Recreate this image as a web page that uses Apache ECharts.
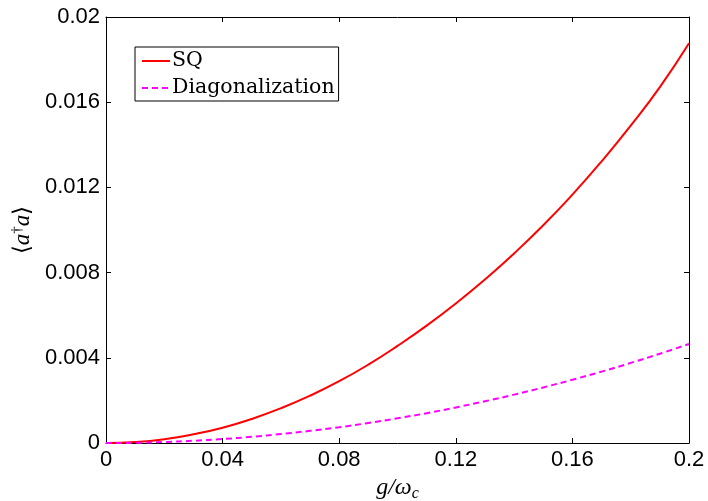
<!DOCTYPE html>
<html>
<head>
<meta charset="utf-8">
<script src="https://cdn.jsdelivr.net/npm/echarts@6/dist/echarts.min.js"></script>
<style>html,body{margin:0;padding:0;background:#fff}#c{width:708px;height:501px}</style>
</head>
<body>
<div id="c"></div>
<script>
const gValues = [0,0.01,0.02,0.03,0.04,0.05,0.06,0.07,0.08,0.09,0.10,0.11,0.12,0.13,0.14,0.15,0.16,0.17,0.18,0.19,0.20];
const sqValues = [0,0.000045,0.00018,0.00041,0.00072,0.00113,0.00163,0.00222,0.00290,0.00368,0.00456,0.00551,0.00655,0.00768,0.00890,0.01022,0.01166,0.01322,0.01490,0.01671,0.01877];
const diagValues = [0,0.0000116,0.000046,0.000104,0.000186,0.00029,0.00042,0.00057,0.00074,0.00094,0.00116,0.0014,0.00167,0.00196,0.00227,0.00261,0.00297,0.00335,0.00376,0.00419,0.00465];
const seriesNames = ['SQ','Diagonalization'];
const xTicks = [0,0.04,0.08,0.12,0.16,0.2];
const yTicks = [0,0.004,0.008,0.012,0.016,0.02];

const chart = echarts.init(document.getElementById('c'), null, {renderer:'canvas'});
const fmt = v => String(parseFloat(v.toFixed(4)));
const sans = 'Liberation Sans, Arial, sans-serif';
const serif = 'Liberation Serif, Times New Roman, serif';
const frameAxis = {
  axisLine:{show:true,onZero:false,lineStyle:{color:'#000',width:1}},
  axisTick:{inside:true,length:5,lineStyle:{color:'#000'}},
  splitLine:{show:false}
};
chart.setOption({
  animation:false,
  backgroundColor:'#fff',
  grid:{left:106,right:19,top:17,bottom:58,containLabel:false,outerBoundsMode:'none'},
  legend:{
    orient:'vertical', left:135, top:47,
    backgroundColor:'#fff', borderColor:'#000', borderWidth:1,
    padding:[2,4,1,6], itemGap:3, itemWidth:28, itemHeight:14,
    itemStyle:{opacity:0},
    textStyle:{fontFamily:'DejaVu Serif, serif', fontSize:20.5, lineHeight:24, color:'#000', padding:[0,0,0,-3]},
    data:seriesNames
  },
  xAxis:[Object.assign({
    type:'value', min:xTicks[0], max:xTicks[xTicks.length-1], interval:0.04,
    axisLabel:{margin:6,formatter:fmt,fontFamily:sans,fontSize:22,color:'#000'},
    name:'{i|g}{n|/ω}{s|c}', nameLocation:'middle', nameGap:29,
    nameTextStyle:{rich:{
      i:{fontFamily:serif,fontStyle:'italic',fontSize:24,color:'#000'},
      n:{fontFamily:serif,fontStyle:'italic',fontSize:24,color:'#000'},
      s:{fontFamily:serif,fontStyle:'italic',fontSize:16,color:'#000',padding:[12,0,0,0]}
    }}
  },frameAxis),Object.assign({
    type:'value', position:'top', min:xTicks[0], max:xTicks[xTicks.length-1], interval:0.04,
    axisLabel:{show:false}
  },frameAxis)],
  yAxis:[Object.assign({
    type:'value', min:yTicks[0], max:yTicks[yTicks.length-1], interval:0.004,
    axisLabel:{margin:6,formatter:fmt,fontFamily:sans,fontSize:22,color:'#000'},
    name:'{t|⟨}{i|a}{s|†}{i|a}{t|⟩}', nameLocation:'middle', nameGap:70, nameRotate:90,
    nameTextStyle:{rich:{
      t:{fontFamily:serif,fontSize:23,color:'#000'},
      i:{fontFamily:serif,fontStyle:'italic',fontSize:23,color:'#000'},
      s:{fontFamily:serif,fontSize:15,color:'#000',padding:[0,0,11,0]}
    }}
  },frameAxis),Object.assign({
    type:'value', position:'right', min:yTicks[0], max:yTicks[yTicks.length-1], interval:0.004,
    axisLabel:{show:false}
  },frameAxis)],
  series:[{
    name:seriesNames[0], type:'line', symbol:'none', smooth:true,
    data:gValues.map((g,i)=>[g,sqValues[i]]),
    lineStyle:{color:'#ff0000',width:2}, itemStyle:{color:'#ff0000'}
  },{
    name:seriesNames[1], type:'line', symbol:'none', smooth:true,
    data:gValues.map((g,i)=>[g,diagValues[i]]),
    lineStyle:{color:'#ff00ff',width:2,type:[6,4]}, itemStyle:{color:'#ff00ff'}
  }]
});
</script>
</body>
</html>
